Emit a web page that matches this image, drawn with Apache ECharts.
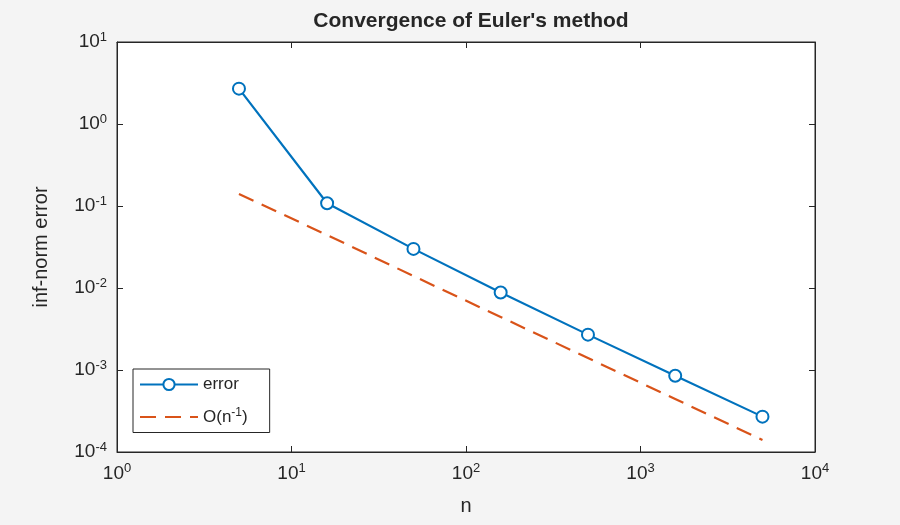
<!DOCTYPE html>
<html lang="en">
<head>
<meta charset="UTF-8">
<title>Convergence of Euler's method</title>
<script src="https://cdn.jsdelivr.net/npm/echarts@6/dist/echarts.min.js"></script>
<style>
  html, body { margin: 0; background: #f4f4f4; }
  #main { width: 900px; height: 525px; }
</style>
</head>
<body>
<div id="main"></div>
<script>
  // step counts and measured errors
  const nValues = [5, 16, 50, 158, 500, 1581, 5000]
  const errValues = [2.7, 0.108, 0.030, 0.0088, 0.0027, 0.00085, 0.00027]
  const refValues = [0.14, 0.0443, 0.014, 0.00443, 0.0014, 0.000443, 0.00014]

  const pairs = (xs, ys) => xs.map((x, i) => [x, ys[i]])
  const font = 'Helvetica, Arial, "Liberation Sans", sans-serif'
  const rich = {
    b: { fontSize: 19, color: '#262626', fontFamily: font },
    sup: { fontSize: 13, color: '#262626', verticalAlign: 'top', padding: [0, 0, 10, 0], fontFamily: font }
  }
  const powLabel = v => '{b|10}{sup|' + Math.round(Math.log10(v)) + '}'
  const axisLine = { show: true, lineStyle: { color: '#262626', width: 1 } }

  const chart = echarts.init(document.getElementById('main'))
  chart.setOption({
    backgroundColor: '#f4f4f4',
    title: {
      text: "Convergence of Euler's method",
      left: 466, top: 6, textAlign: 'center',
      textStyle: { fontSize: 21, fontWeight: 'bold', color: '#262626', fontFamily: font }
    },
    grid: {
      left: 117, right: 85, top: 42, bottom: 73,
      show: true, backgroundColor: '#ffffff', borderColor: '#262626', borderWidth: 1
    },
    legend: {
      orient: 'vertical', left: 133, top: 369,
      backgroundColor: '#ffffff', borderColor: '#262626', borderWidth: 1,
      padding: [7, 22, 7, 6], itemGap: 14, itemWidth: 58, itemHeight: 14,
      textStyle: { fontSize: 17, color: '#262626', fontFamily: font, rich: {
        b: { fontSize: 17, color: '#262626', fontFamily: font },
        sup: { fontSize: 12, color: '#262626', verticalAlign: 'top', padding: [0, 0, 8, 0], fontFamily: font }
      } },
      formatter: name => name === 'ref' ? '{b|O(n}{sup|-1}{b|)}' : '{b|error}',
      data: ['error', { name: 'ref', itemStyle: { opacity: 0 } }]
    },
    xAxis: [{
      type: 'log', logBase: 10, min: 1, max: 10000,
      name: 'n', nameLocation: 'middle', nameGap: 44,
      nameTextStyle: { fontSize: 20, color: '#262626', fontFamily: font },
      axisLine, axisTick: { inside: true, length: 6 },
      splitLine: { show: false },
      axisLabel: { formatter: powLabel, rich, margin: 10 }
    }, {
      type: 'log', logBase: 10, min: 1, max: 10000, position: 'top',
      axisLine, axisTick: { inside: true, length: 6 },
      axisLabel: { show: false }, splitLine: { show: false }
    }],
    yAxis: [{
      type: 'log', logBase: 10, min: 0.0001, max: 10,
      name: 'inf-norm error', nameLocation: 'middle', nameGap: 66,
      nameTextStyle: { fontSize: 20, color: '#262626', fontFamily: font },
      axisLine, axisTick: { inside: true, length: 6 },
      splitLine: { show: false },
      axisLabel: { formatter: powLabel, rich, margin: 10 }
    }, {
      type: 'log', logBase: 10, min: 0.0001, max: 10, position: 'right',
      axisLine, axisTick: { inside: true, length: 6 },
      axisLabel: { show: false }, splitLine: { show: false }
    }],
    series: [
      {
        name: 'error', type: 'line', data: pairs(nValues, errValues),
        symbol: 'emptyCircle', symbolSize: 12,
        lineStyle: { color: '#0072BD', width: 2.2 },
        itemStyle: { color: '#0072BD', borderWidth: 2.2 },
        z: 3
      },
      {
        name: 'ref', type: 'line', data: pairs(nValues, refValues),
        symbol: 'none',
        lineStyle: { color: '#D95319', width: 2.2, type: [16, 9] },
        itemStyle: { color: '#D95319' }
      }
    ]
  })
</script>
</body>
</html>
